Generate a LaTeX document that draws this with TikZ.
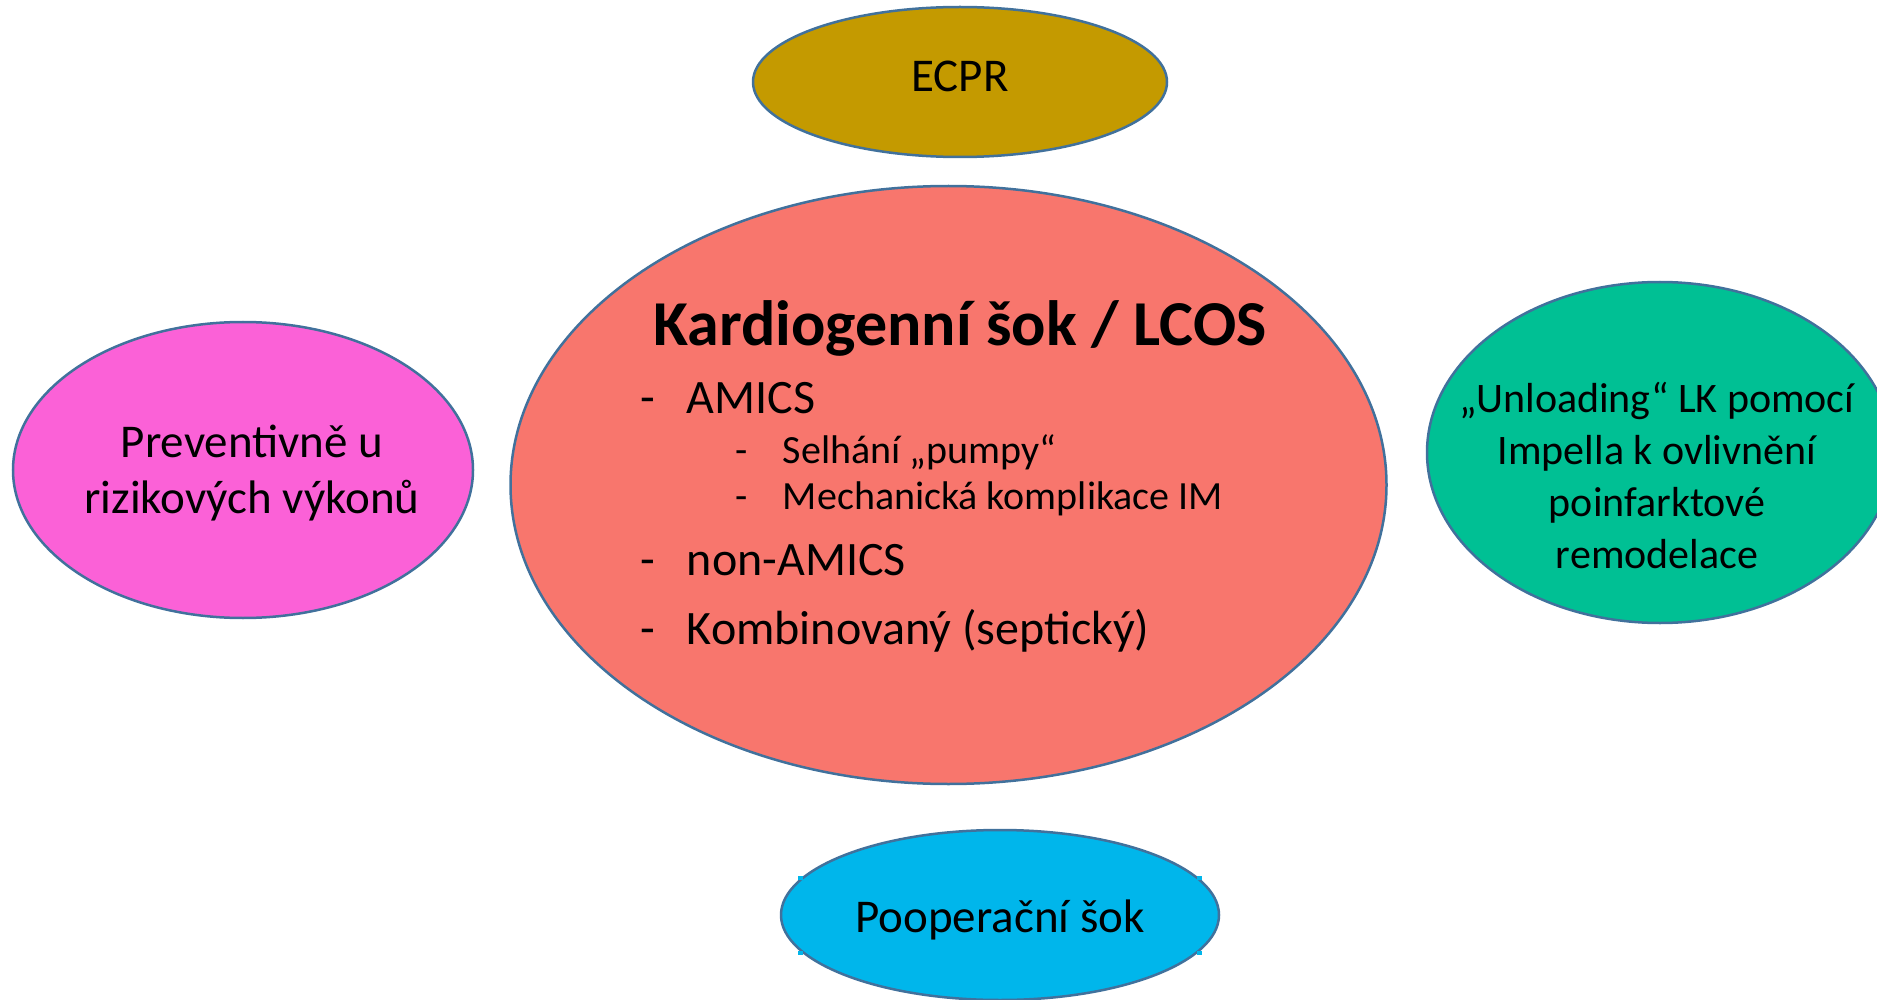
\documentclass[tikz,border=0pt]{standalone}
\usepackage{fontspec}
\setmainfont{Carlito}
\usetikzlibrary{shapes.geometric}
\definecolor{cred}{HTML}{F8766D}
\definecolor{cgold}{HTML}{C49A00}
\definecolor{cteal}{HTML}{00C094}
\definecolor{cblue}{HTML}{00B6EB}
\definecolor{cpink}{HTML}{FB61D7}
\definecolor{edgeblue}{HTML}{41719C}
\begin{document}
\begin{tikzpicture}[x=1pt,y=-1pt,
  blob/.style={ellipse, draw=edgeblue, line width=2.5pt, inner sep=0pt, outer sep=0pt},
  txt/.style={inner sep=0pt, outer sep=0pt, text=black},
  big/.style={font=\fontsize{47}{56}\selectfont},
  item/.style={txt, anchor=base west, font=\fontsize{48}{58}\selectfont},
  subitem/.style={txt, anchor=base west, font=\fontsize{40}{48}\selectfont}]
\useasboundingbox (0,0) rectangle (1877,1000);
\clip (0,0) rectangle (1877,1000);
% ellipses
\node[blob, fill=cgold, minimum width=414pt, minimum height=150pt] (ecpr) at (960,82) {};
\node[blob, fill=cred, minimum width=876pt, minimum height=598pt] (main) at (948.5,485) {};
\node[blob, fill=cpink, minimum width=460pt, minimum height=296pt] (prev) at (243,470) {};
\node[blob, fill=cteal, minimum width=466pt, minimum height=341pt] (unl) at (1660,452.5) {};
\node[blob, fill=cblue, minimum width=438pt, minimum height=170pt] (poop) at (1000,915) {};
\fill[cblue] (798,876) rectangle (803,880);
\fill[cblue] (1197,876) rectangle (1202,880);
\fill[cblue] (798,951) rectangle (803,955);
\fill[cblue] (1197,951) rectangle (1202,955);
% texts (multi-line nodes: base = baseline of last line)
\node[txt, big, anchor=base] (ecprT) at (960,92) {ECPR};
\node[txt, big, anchor=base] (poopT) at (1000,932) {Pooperační šok};
\node[txt, big, anchor=base, align=center] (prevT) at (252,513) {Preventivně u\\rizikových výkonů};
\node[txt, anchor=base, align=center, font=\fontsize{42}{51.7}\selectfont] (unlT) at (1657,568)
  {„Unloading“ LK pomocí\\Impella k ovlivnění\\poinfarktové\\remodelace};
\node[txt, anchor=base, font=\bfseries\fontsize{64}{77}\selectfont] (title) at (960,345) {Kardiogenní šok / LCOS};
\node[item] (i1) at (640,413) {\makebox[47pt][l]{-}AMICS};
\node[subitem] (i1a) at (735,463) {\makebox[48pt][l]{-}Selhání „pumpy“};
\node[subitem] (i1b) at (735,509) {\makebox[48pt][l]{-}Mechanická komplikace IM};
\node[item] (i2) at (640,575) {\makebox[47pt][l]{-}non-AMICS};
\node[item] (i3) at (640,644) {\makebox[47pt][l]{-}Kombinovaný (septický)};
\end{tikzpicture}
\end{document}
